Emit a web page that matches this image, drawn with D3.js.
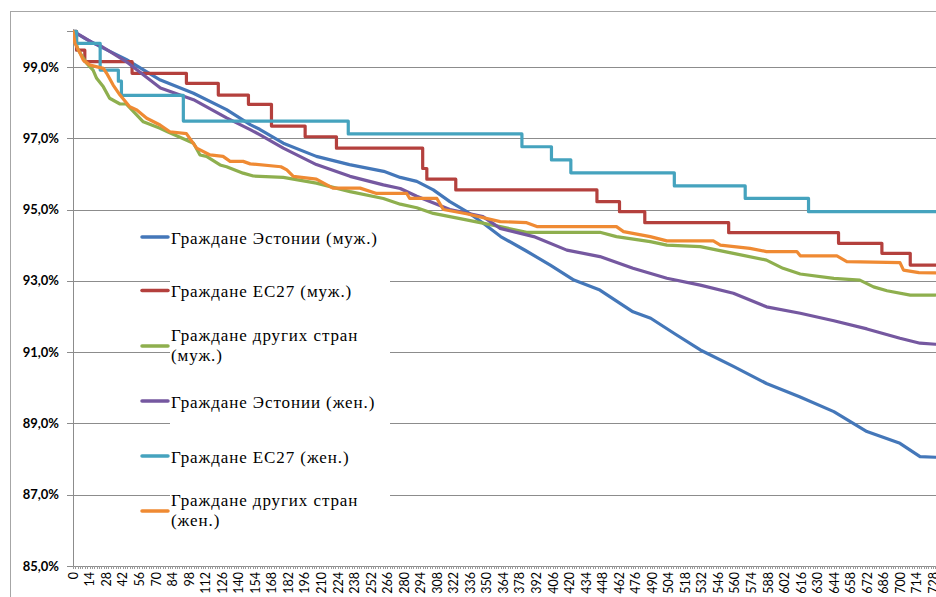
<!DOCTYPE html>
<html>
<head>
<meta charset="utf-8">
<script src="https://cdn.jsdelivr.net/npm/d3@7"></script>
<style>
  html, body { margin: 0; padding: 0; background: #fff; }
  svg { display: block; }
  .legtext { font-family: "Liberation Serif", "Times New Roman", Times, Tinos, "Nimbus Roman", FreeSerif, "DejaVu Serif", "Noto Serif", serif; font-size: 17px; }
  .axtext { font-family: Lato, "Liberation Sans", sans-serif; }
</style>
</head>
<body>
<svg id="chart" width="936" height="597"></svg>
<script>
// ---- DATA (day, share in %) ----
const legendLines = [
  ["Граждане Эстонии (муж.)"],
  ["Граждане ЕС27 (муж.)"],
  ["Граждане других стран", "(муж.)"],
  ["Граждане Эстонии (жен.)"],
  ["Граждане ЕС27 (жен.)"],
  ["Граждане других стран", "(жен.)"]
];
const estMale = [[0,100],[10,99.8],[23,99.57],[45,99.21],[74,98.63],[102,98.26],[130,97.8],[150,97.38],[158,97.25],[178,96.86],[206,96.49],[234,96.26],[263,96.07],[277,95.9],[291,95.79],[305,95.55],[319,95.22],[333,94.95],[347,94.62],[362,94.24],[383,93.85],[404,93.44],[424,93.02],[446,92.74],[474,92.13],[489,91.95],[510,91.5],[531,91.06],[559,90.6],[587,90.12],[615,89.75],[644,89.33],[672,88.77],[700,88.44],[717,88.07],[730,88.05]];
const euMale = [[0,100],[3,99.47],[10,99.15],[50,98.82],[96,98.54],[123,98.21],[148.5,97.95],[168,97.34],[196.5,97.04],[223,96.72],[296,96.15],[299.5,95.85],[324,95.55],[443.5,95.22],[462.6,94.94],[484,94.63],[555,94.35],[648,94.05],[684.7,93.77],[708.7,93.44],[730,93.44]];
const otherMale = [[0,100],[2,99.7],[4.5,99.47],[11.6,99.1],[17,98.91],[20,98.68],[25.7,98.44],[31,98.12],[39.8,97.96],[45,97.96],[59.5,97.46],[73.7,97.28],[80,97.18],[102,96.86],[107.5,96.53],[113,96.49],[124.5,96.25],[130,96.2],[144,96.02],[152.6,95.94],[178,95.9],[206,95.74],[234.5,95.5],[262.7,95.31],[277,95.15],[291,95.05],[305,94.89],[319,94.8],[333,94.71],[361.6,94.52],[384,94.36],[446,94.36],[460,94.24],[488.6,94.1],[502.7,94.0],[531,93.96],[559,93.77],[587,93.58],[601,93.35],[615.6,93.19],[644,93.07],[666,93.02],[677.6,92.83],[689,92.72],[708.7,92.6],[730,92.6]];
const estFemale = [[0,100],[8,99.85],[17,99.67],[23,99.6],[45,99.15],[74,98.41],[102,98.08],[130,97.57],[150,97.24],[158,97.1],[178,96.72],[206,96.26],[234.5,95.93],[262.7,95.69],[277,95.59],[291,95.37],[319,95.0],[347,94.8],[361.6,94.47],[390,94.24],[418,93.86],[446,93.68],[474,93.35],[502.7,93.07],[531,92.88],[559,92.65],[587,92.27],[615.6,92.09],[644,91.88],[672,91.65],[700,91.39],[717,91.25],[730,91.22]];
const euFemale = [[0,100],[3,99.66],[23,98.91],[38.4,98.6],[41,98.2],[93.4,97.48],[233,97.12],[380,96.76],[405,96.39],[421.4,96.03],[509,95.66],[569,95.31],[622.6,94.94],[730,94.94]];
const otherFemale = [[0,100],[1.7,99.66],[6,99.38],[8.7,99.19],[14.4,99.05],[25.7,98.96],[28.5,98.82],[34,98.49],[39.8,98.21],[48,97.88],[54,97.79],[62.4,97.56],[73.7,97.37],[82,97.18],[96,97.13],[104.7,96.72],[116,96.53],[127,96.49],[133,96.35],[144,96.35],[150,96.28],[176,96.2],[181,96.11],[186.5,95.93],[206,95.85],[220,95.6],[243,95.6],[257,95.45],[282.5,95.45],[285,95.31],[308,95.31],[313.5,95.0],[333,94.88],[361.6,94.66],[384,94.63],[392.6,94.52],[460,94.52],[466,94.38],[488.6,94.24],[502.7,94.12],[542,94.12],[548,94.0],[573,93.91],[587,93.82],[612.7,93.82],[615.6,93.7],[646.6,93.7],[655,93.54],[700,93.51],[703,93.3],[716,93.23],[730,93.22]];
const stepped = [false, true, false, false, true, false];
const yTicks = [85, 87, 89, 91, 93, 95, 97, 99];
const xTickLabels = d3.range(0, 729, 14);

// ---- STYLE ----
const colors = ["#4477B9", "#B4403D", "#8EAF4E", "#7558A0", "#45A3BE", "#EF8A33"];
const allSeries = [estMale, euMale, otherMale, estFemale, euFemale, otherFemale];

const svg = d3.select("#chart");
const L = 73, R = 936, T = 31.25, B = 566;
const x = d3.scaleLinear().domain([0, 730.5]).range([L, R]);
const y = d3.scaleLinear().domain([85, 100]).range([B, T]);

// outer chart border
svg.append("rect").attr("x", 10.5).attr("y", 11.5).attr("width", 1000).attr("height", 1000)
  .attr("fill", "none").attr("stroke", "#a6a6a6").attr("stroke-width", 1);

// gridlines
const grid = svg.append("g").attr("transform", `translate(${L},0)`)
  .call(d3.axisLeft(y).tickValues(yTicks).tickSize(-(R - L)).tickFormat(""));
grid.select(".domain").remove();
grid.selectAll("line").attr("stroke", "#8c8c8c").attr("shape-rendering", "crispEdges");

// y axis
const yAxis = svg.append("g").attr("transform", `translate(${L},0)`)
  .call(d3.axisLeft(y).tickValues(yTicks).tickSize(6).tickPadding(8)
    .tickFormat(d => d.toFixed(1).replace(".", ",") + "%"));
yAxis.attr("font-family", null).attr("font-size", null);
yAxis.select(".domain").attr("stroke", "#8c8c8c").attr("shape-rendering", "crispEdges");
yAxis.selectAll("line").attr("stroke", "#8c8c8c").attr("shape-rendering", "crispEdges");
yAxis.selectAll("text").attr("class", "axtext")
  .style("font-weight", "bold").style("font-size", "13px").attr("fill", "#000");

// x axis
const xAxis = svg.append("g").attr("transform", `translate(0,${B})`)
  .call(d3.axisBottom(x).tickValues(xTickLabels).tickSize(0).tickFormat(d => d));
xAxis.attr("font-family", null).attr("font-size", null);
xAxis.select(".domain").attr("stroke", "#8c8c8c").attr("shape-rendering", "crispEdges");
xAxis.selectAll("text").attr("class", "axtext")
  .style("font-size", "12.5px").attr("fill", "#000")
  .attr("transform", "rotate(-90)").attr("x", -6).attr("y", 0).attr("dy", "0.35em")
  .attr("text-anchor", "end");
// dense minor tick marks
svg.append("g").selectAll("line").data(d3.range(0, 731, 2)).join("line")
  .attr("x1", d => Math.round(x(d)) + 0.5).attr("x2", d => Math.round(x(d)) + 0.5)
  .attr("y1", B).attr("y2", B + 3).attr("stroke", "#9a9a9a").attr("stroke-width", 1);

// series lines
svg.append("clipPath").attr("id", "plotclip").append("rect")
  .attr("x", L).attr("y", 0).attr("width", R - L).attr("height", B + 2);
const lines = svg.append("g").attr("clip-path", "url(#plotclip)");
allSeries.forEach((s, i) => {
  const gen = d3.line().x(d => x(d[0])).y(d => y(d[1]))
    .curve(stepped[i] ? d3.curveStepAfter : d3.curveLinear);
  lines.append("path").datum(s).attr("d", gen)
    .attr("fill", "none").attr("stroke", colors[i]).attr("stroke-width", 3.2)
    .attr("stroke-linejoin", "round").attr("stroke-linecap", "round");
});

// legend
const lg = svg.append("g");
lg.append("rect").attr("x", 170).attr("y", 222).attr("width", 220).attr("height", 313).attr("fill", "#fff");
const sampleY = [237, 290.5, 346, 401, 456, 511];
const legTexts = [];
legendLines.forEach((ls, i) => {
  lg.append("line").attr("x1", 142).attr("x2", 168).attr("y1", sampleY[i]).attr("y2", sampleY[i])
    .attr("stroke", colors[i]).attr("stroke-width", 3.5).attr("stroke-linecap", "round");
  const t = lg.append("text").attr("class", "legtext").attr("fill", "#000");
  legTexts.push(t);
  if (ls.length === 1) {
    t.append("tspan").attr("x", 171).attr("y", sampleY[i] + 1).attr("dy", "0.35em").text(ls[0]);
  } else {
    t.append("tspan").attr("x", 171).attr("y", sampleY[i] - 10.5).attr("dy", "0.35em").text(ls[0]);
    t.append("tspan").attr("x", 171).attr("y", sampleY[i] + 9.5).attr("dy", "0.35em").text(ls[1]);
  }
});
// match the reference legend text width (first entry ≈ 207px wide)
const w0 = legTexts[0].node().getComputedTextLength();
const ls = (207 - w0) / (legendLines[0][0].length);
if (Math.abs(ls) > 0.05) lg.selectAll("text").style("letter-spacing", ls.toFixed(2) + "px");
</script>
</body>
</html>
